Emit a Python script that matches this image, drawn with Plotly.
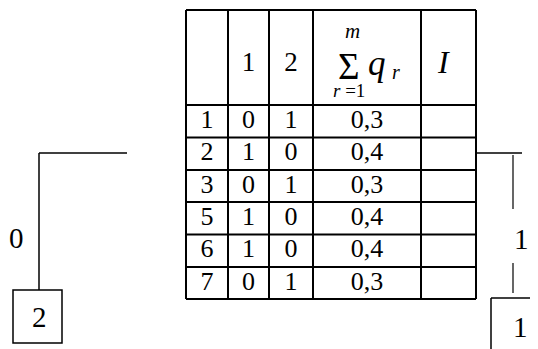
"""Decision table with side branches, redrawn in plotly"""
import plotly.graph_objects as go

# table data
row_labels = ["1", "2", "3", "5", "6", "7"]
col_one = ["0", "1", "0", "1", "1", "0"]
col_two = ["1", "0", "1", "0", "0", "1"]
sum_q = ["0,3", "0,4", "0,3", "0,4", "0,4", "0,3"]
header_cols = ["1", "2"]
left_branch = {"edge": "0", "node": "2"}
right_branch = {"edge": "1", "node": "1"}

FONT = "Liberation Serif"
W, H = 538, 349
PAD = 8  # default body margin of the page

# grid geometry (pixel-like axis units, y grows downward)
col_edges = [186, 228, 269, 313, 421, 476]
row_edges = [10, 105, 137.5, 170, 202, 234.5, 267, 299]

fig = go.Figure()

shapes = []
line = dict(color="black", width=2)
for x in col_edges:
    shapes.append(dict(type="line", x0=x, x1=x, y0=row_edges[0], y1=row_edges[-1], line=line))
for y in row_edges:
    shapes.append(dict(type="line", x0=col_edges[0], x1=col_edges[-1], y0=y, y1=y, line=line))

# left branch
shapes += [
    dict(type="line", x0=39, x1=127, y0=153, y1=153, line=dict(color="black", width=1.5)),
    dict(type="line", x0=39, x1=39, y0=153, y1=290, line=dict(color="black", width=1.5)),
    dict(type="rect", x0=13, x1=62, y0=290, y1=343, line=dict(color="black", width=1.5)),
]
# right branch
shapes += [
    dict(type="line", x0=477, x1=522, y0=153, y1=153, line=dict(color="black", width=1.5)),
    dict(type="line", x0=513, x1=513, y0=155, y1=209, line=dict(color="black", width=1.2)),
    dict(type="line", x0=513, x1=513, y0=263, y1=293, line=dict(color="black", width=1.2)),
    dict(type="line", x0=491, x1=491, y0=298, y1=352, line=dict(color="black", width=1.5)),
    dict(type="line", x0=491, x1=540, y0=298, y1=298, line=dict(color="black", width=1.5)),
]

# body cells
centers_x = [(col_edges[i] + col_edges[i + 1]) / 2 for i in range(4)]
centers_y = [(row_edges[i] + row_edges[i + 1]) / 2 for i in range(1, len(row_edges) - 1)]
for cx, values in zip(centers_x, [row_labels, col_one, col_two, sum_q]):
    fig.add_trace(
        go.Scatter(
            x=[cx] * len(values),
            y=centers_y,
            mode="text",
            text=values,
            textfont=dict(family=FONT, size=26, color="black"),
            hoverinfo="skip",
        )
    )

# header
fig.add_trace(
    go.Scatter(
        x=centers_x[1:3],
        y=[64, 64],
        mode="text",
        text=header_cols,
        textfont=dict(family=FONT, size=27, color="black"),
        hoverinfo="skip",
    )
)

annotations = [
    dict(x=349, y=66, text="Σ", font=dict(family=FONT, size=37)),
    dict(x=352, y=31, text="<i>m</i>", font=dict(family=FONT, size=21)),
    dict(x=349, y=90, text="<i>r</i> =1", font=dict(family=FONT, size=19)),
    dict(x=377, y=63, text="<i>q</i>", font=dict(family=FONT, size=35)),
    dict(x=396, y=72, text="<i>r</i>", font=dict(family=FONT, size=20)),
    dict(x=443, y=62, text="<i>I</i>", font=dict(family=FONT, size=32)),
    # branches
    dict(x=16, y=238, text=left_branch["edge"], font=dict(family=FONT, size=29)),
    dict(x=39, y=317, text=left_branch["node"], font=dict(family=FONT, size=29)),
    dict(x=521, y=239, text=right_branch["edge"], font=dict(family=FONT, size=29)),
    dict(x=520, y=327, text=right_branch["node"], font=dict(family=FONT, size=29)),
]
for a in annotations:
    a.update(xref="x", yref="y", showarrow=False, xanchor="center", yanchor="middle")
    a["font"]["color"] = "black"

fig.update_layout(
    width=W,
    height=H,
    margin=dict(l=0, r=0, t=0, b=0),
    paper_bgcolor="white",
    plot_bgcolor="white",
    showlegend=False,
    shapes=shapes,
    annotations=annotations,
)
# the page puts the figure PAD px in from the corner, so offset the ranges
fig.update_xaxes(range=[PAD, W + PAD], visible=False, fixedrange=True)
fig.update_yaxes(range=[H + PAD, PAD], visible=False, fixedrange=True)

fig.write_html("out.html", config={"displayModeBar": False})
